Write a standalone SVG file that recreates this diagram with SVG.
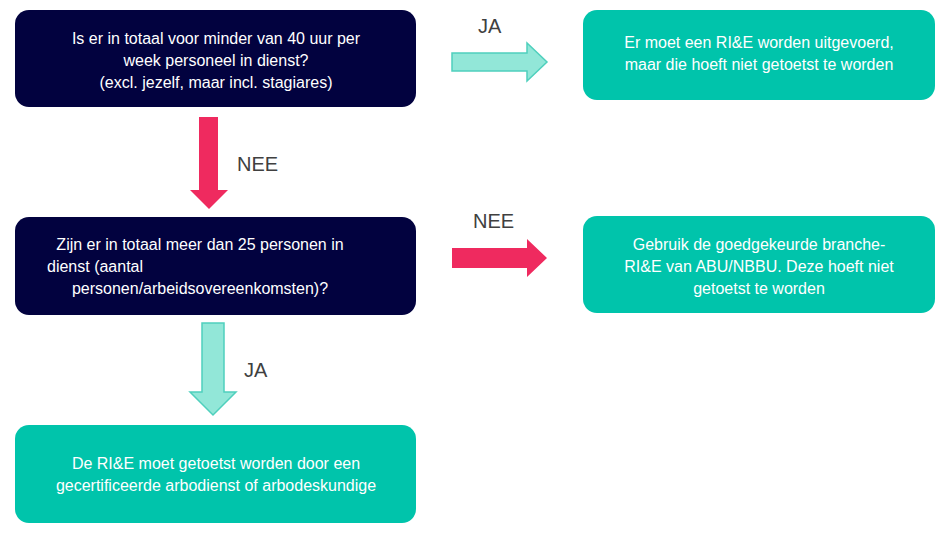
<svg xmlns="http://www.w3.org/2000/svg" width="949" height="537" viewBox="0 0 949 537">
<style>
.q{fill:#02023f}
.a{fill:#00c4ab}
.t{font-family:"Liberation Sans",Arial,sans-serif;font-size:16px;text-anchor:middle}
.w{fill:#fff}
.l{font-family:"Liberation Sans",Arial,sans-serif;font-size:20px;fill:#404040}
.r{fill:#ef2a5f}
.g{fill:#92e7d8;stroke:#4fd0bd;stroke-width:1.5}
</style>
<rect width="949" height="537" fill="#fff"/>
<g id="n1"><rect class="q" x="15" y="10" width="401" height="97" rx="14"/>
<text class="t w" x="216" y="44">Is er in totaal voor minder van 40 uur per</text>
<text class="t w" x="216" y="66">week personeel in dienst?</text>
<text class="t w" x="216" y="88">(excl. jezelf, maar incl. stagiares)</text></g>
<g id="n2"><rect class="a" x="583" y="10" width="352" height="90" rx="14"/>
<text class="t w" x="759" y="48">Er moet een RI&amp;E worden uitgevoerd,</text>
<text class="t w" x="759" y="70">maar die hoeft niet getoetst te worden</text></g>
<g id="n3"><rect class="q" x="15" y="217" width="401" height="98" rx="14"/>
<text class="t w" x="200" y="250">Zijn er in totaal meer dan 25 personen in</text>
<text class="t w" x="200" y="272" text-anchor="start" style="text-anchor:start" dx="-153">dienst (aantal</text>
<text class="t w" x="200" y="294">personen/arbeidsovereenkomsten)?</text></g>
<g id="n4"><rect class="a" x="583" y="216" width="352" height="97" rx="14"/>
<text class="t w" x="759" y="250">Gebruik de goedgekeurde branche-</text>
<text class="t w" x="759" y="272">RI&amp;E van ABU/NBBU. Deze hoeft niet</text>
<text class="t w" x="759" y="294">getoetst te worden</text></g>
<g id="n5"><rect class="a" x="15" y="425" width="401" height="98" rx="14"/>
<text class="t w" x="216" y="469">De RI&amp;E moet getoetst worden door een</text>
<text class="t w" x="216" y="491">gecertificeerde arbodienst of arbodeskundige</text></g>
<g id="connectors">
<polygon class="g" points="452,53 527,53 527,43 547,62 527,81 527,71 452,71"/>
<text class="l" x="478" y="33">JA</text>
<polygon class="r" points="199,117 218,117 218,190 228,190 209,209 190,190 199,190"/>
<text class="l" x="237" y="171">NEE</text>
<polygon class="r" points="452,248 527,248 527,239 547,258 527,277 527,268 452,268"/>
<text class="l" x="473" y="228">NEE</text>
<polygon class="g" points="202,323 224,323 224,392 236,392 213,415 190,392 202,392"/>
<text class="l" x="244" y="377">JA</text>
</g>
</svg>
